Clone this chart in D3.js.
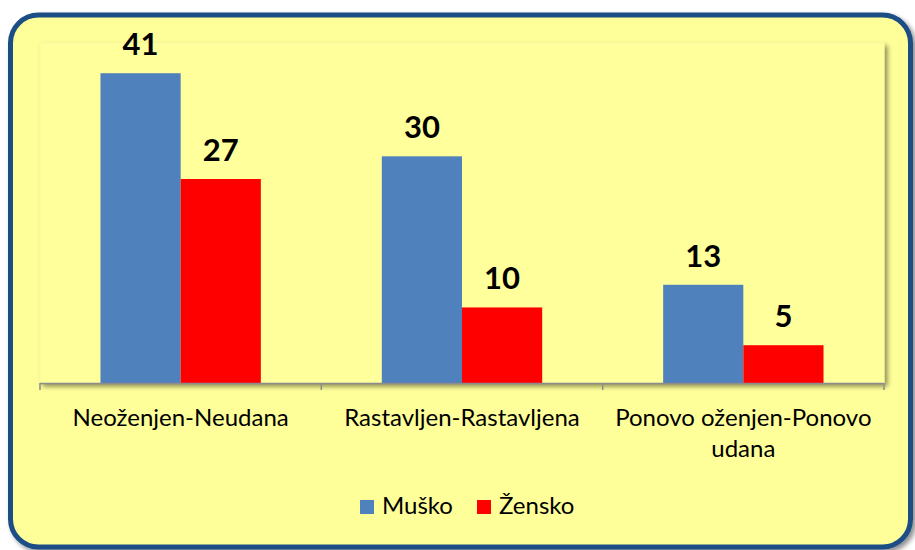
<!DOCTYPE html>
<html>
<head>
  <meta charset="UTF-8">
  <script type="text/javascript" src="https://cdn.jsdelivr.net/npm/d3@7" charset="UTF-8"></script>
  <title>Bračno stanje</title>
  <style>
    body { margin: 0; background: #ffffff; }
    svg { display: block; font-family: Lato, "Open Sans", sans-serif; }
  </style>
</head>

<body>

<svg width="915" height="550"></svg>

<script type="text/javascript">

  var categories = [ "Neoženjen-Neudana", "Rastavljen-Rastavljena", "Ponovo oženjen-Ponovo udana" ];
  var seriesNames = [ "Muško", "Žensko" ];
  var musko = [ 41, 30, 13 ];
  var zensko = [ 27, 10, 5 ];
  var colors = [ "#4f81bd", "#ff0000" ];

  var svg = d3.select( "svg" );

  var defs = svg.append( "defs" );

  var shadow = defs.append( "filter" ).attr( "id", "shadow" )
      .attr( "x", "-5%" ).attr( "y", "-5%" ).attr( "width", "115%" ).attr( "height", "120%" );
  shadow.append( "feDropShadow" )
      .attr( "dx", 3 ).attr( "dy", 3 ).attr( "stdDeviation", 2.5 )
      .attr( "flood-color", "#000" ).attr( "flood-opacity", 0.45 );

  // outer frame
  svg.append( "rect" )
      .attr( "x", 10.5 ).attr( "y", 15 )
      .attr( "width", 900 ).attr( "height", 532 )
      .attr( "rx", 28 ).attr( "ry", 28 )
      .attr( "fill", "#ffff99" )
      .attr( "stroke", "#1f4e85" )
      .attr( "stroke-width", 5 )
      .attr( "filter", "url(#shadow)" );

  var plotLeft = 40, plotRight = 884, plotTop = 43, plotBottom = 383;

  // plot area panel
  svg.append( "rect" )
      .attr( "x", plotLeft ).attr( "y", plotTop )
      .attr( "width", plotRight - plotLeft ).attr( "height", plotBottom - plotTop )
      .attr( "fill", "#ffff9b" )
      .attr( "stroke", "#fbf8a0" )
      .attr( "filter", "url(#shadow)" );

  var x = d3.scaleBand()
      .domain( categories )
      .range( [plotLeft, plotRight] )
      .paddingInner( 0.43 )
      .paddingOuter( 0.215 );

  var xs = d3.scaleBand()
      .domain( seriesNames )
      .range( [0, x.bandwidth()] );

  var y = d3.scaleLinear()
      .domain( [0, 45] )
      .range( [plotBottom, plotTop] );

  var rows = categories.map( function ( c, i ) {
    return { cat: c, vals: [ { s: seriesNames[0], v: musko[i] }, { s: seriesNames[1], v: zensko[i] } ] };
  } );

  var groups = svg.selectAll( "g.cat" )
      .data( rows )
      .enter()
      .append( "g" )
      .attr( "class", "cat" )
      .attr( "transform", function ( d ) { return "translate(" + x( d.cat ) + ",0)"; } );

  groups.selectAll( "rect" )
      .data( function ( d ) { return d.vals; } )
      .enter()
      .append( "rect" )
      .attr( "x", function ( d ) { return xs( d.s ); } )
      .attr( "y", function ( d ) { return y( d.v ); } )
      .attr( "width", xs.bandwidth() )
      .attr( "height", function ( d ) { return plotBottom - y( d.v ); } )
      .attr( "fill", function ( d, i ) { return colors[i]; } );

  groups.selectAll( "text.val" )
      .data( function ( d ) { return d.vals; } )
      .enter()
      .append( "text" )
      .attr( "class", "val" )
      .attr( "x", function ( d ) { return xs( d.s ) + xs.bandwidth() / 2; } )
      .attr( "y", function ( d ) { return y( d.v ) - 18; } )
      .attr( "text-anchor", "middle" )
      .attr( "font-size", 31 )
      .attr( "font-weight", "bold" )
      .attr( "fill", "#000" )
      .text( function ( d ) { return d.v; } );

  // category axis
  var axisG = svg.append( "g" )
      .attr( "transform", "translate(0," + plotBottom + ")" );

  axisG.append( "line" )
      .attr( "x1", plotLeft ).attr( "x2", plotRight )
      .attr( "y1", 0.5 ).attr( "y2", 0.5 )
      .attr( "stroke", "#8c8c8c" )
      .attr( "stroke-width", 1.5 );

  var step = ( plotRight - plotLeft ) / categories.length;
  axisG.selectAll( "line.tick" )
      .data( d3.range( categories.length + 1 ) )
      .enter()
      .append( "line" )
      .attr( "class", "tick" )
      .attr( "x1", function ( i ) { return plotLeft + i * step; } )
      .attr( "x2", function ( i ) { return plotLeft + i * step; } )
      .attr( "y1", 0 ).attr( "y2", 7 )
      .attr( "stroke", "#8c8c8c" )
      .attr( "stroke-width", 1.5 );

  var wrap = { "Ponovo oženjen-Ponovo udana": [ "Ponovo oženjen-Ponovo", "udana" ] };

  svg.selectAll( "text.catlabel" )
      .data( categories )
      .enter()
      .append( "text" )
      .attr( "class", "catlabel" )
      .attr( "text-anchor", "middle" )
      .attr( "font-size", 24 )
      .attr( "fill", "#000" )
      .each( function ( c ) {
        var lines = wrap[c] || [ c ];
        var t = d3.select( this );
        lines.forEach( function ( l, i ) {
          t.append( "tspan" )
              .attr( "x", x( c ) + x.bandwidth() / 2 )
              .attr( "y", 426 + i * 31 )
              .text( l );
        } );
      } );

  // legend
  var legendX = [ 360, 477 ];
  var legend = svg.selectAll( "g.legend" )
      .data( seriesNames )
      .enter()
      .append( "g" )
      .attr( "class", "legend" )
      .attr( "transform", function ( d, i ) { return "translate(" + legendX[i] + ",500)"; } );

  legend.append( "rect" )
      .attr( "width", 14 ).attr( "height", 14 )
      .attr( "fill", function ( d, i ) { return colors[i]; } );

  legend.append( "text" )
      .attr( "x", 22 ).attr( "y", 14 )
      .attr( "font-size", 24 )
      .attr( "fill", "#000" )
      .text( function ( d ) { return d; } );
</script>

</body>
</html>
